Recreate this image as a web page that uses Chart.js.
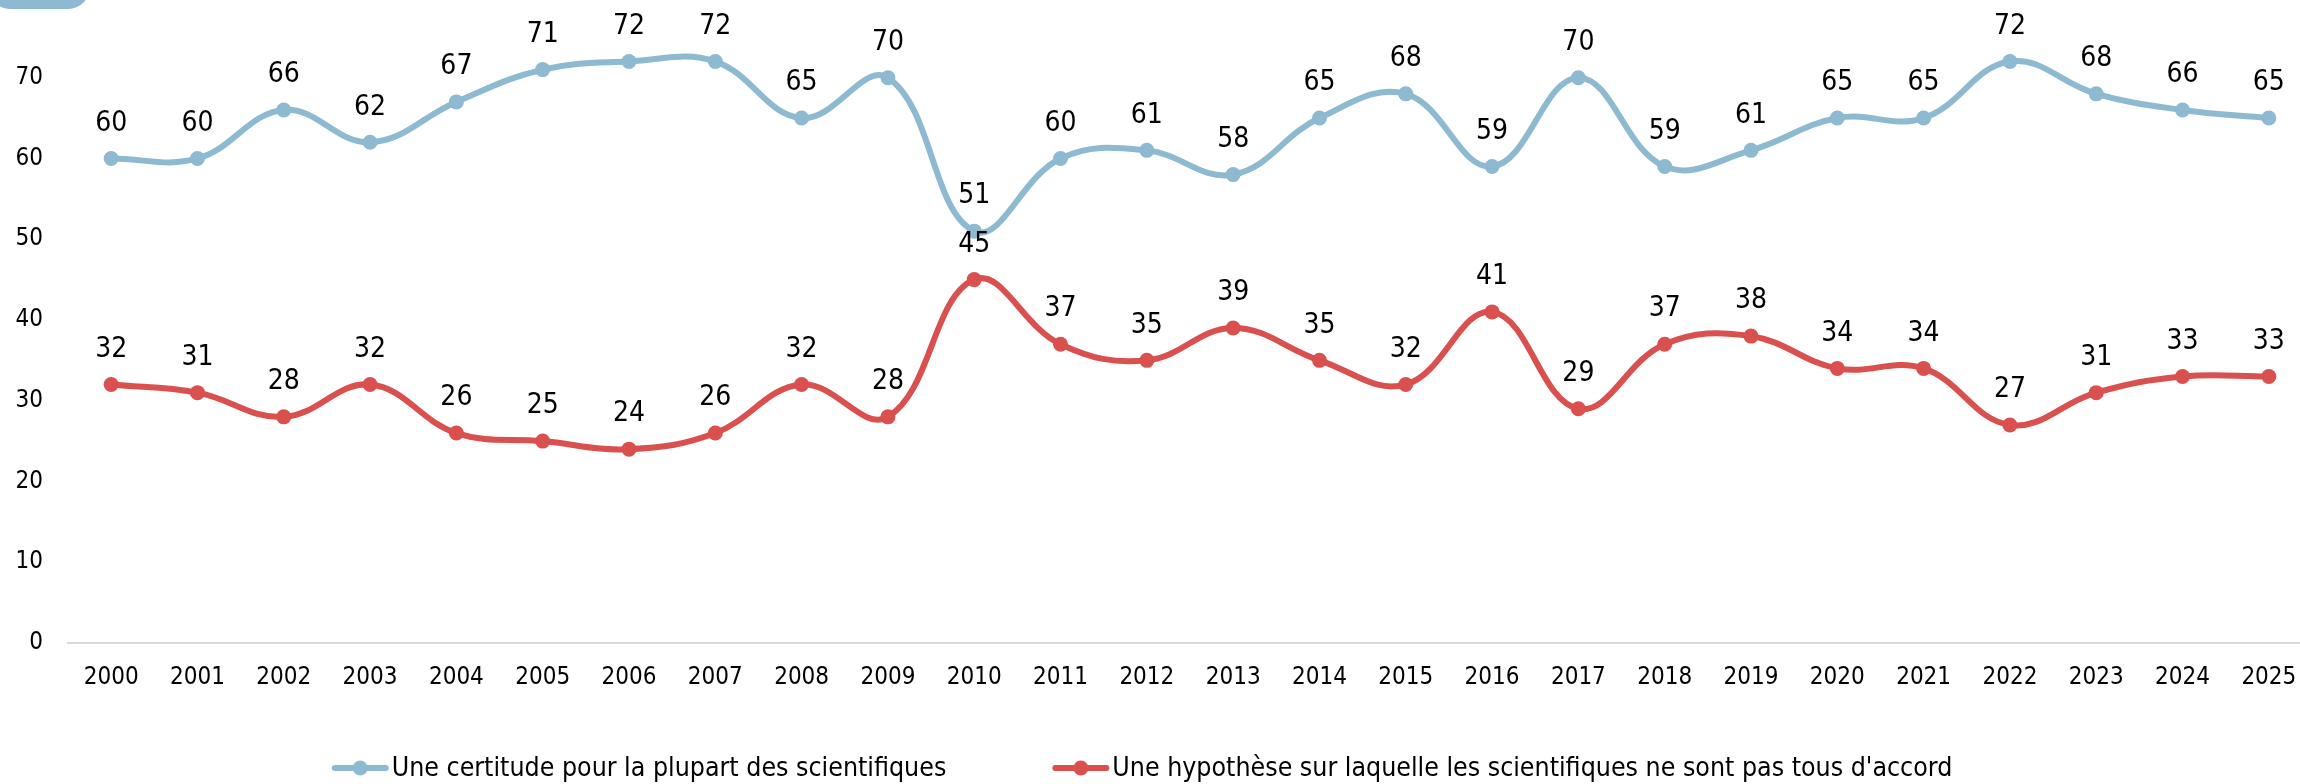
<!DOCTYPE html>
<html><head><meta charset="utf-8">
<script src="https://cdn.jsdelivr.net/npm/chart.js@4.4.1/dist/chart.umd.min.js"></script>
<style>
html,body{margin:0;padding:0;overflow:hidden;background:#fff;width:2300px;height:784px;}
#wrap{position:relative;width:2300px;height:784px;overflow:hidden;}
#c{position:absolute;left:0;top:0;width:2320px;height:784px;}
#badge{position:absolute;left:-12px;top:-40px;width:102px;height:49px;border-radius:22px;background:#8db9d2;}
</style></head><body>
<div id="wrap"><canvas id="c" width="2320" height="784"></canvas><div id="badge"></div></div>
<script>
const years = ['2000','2001','2002','2003','2004','2005','2006','2007','2008','2009','2010','2011','2012','2013','2014','2015','2016','2017','2018','2019','2020','2021','2022','2023','2024','2025'];
const certitude = [60,60,66,62,67,71,72,72,65,70,51,60,61,58,65,68,59,70,59,61,65,65,72,68,66,65];
const hypothese = [32,31,28,32,26,25,24,26,32,28,45,37,35,39,35,32,41,29,37,38,34,34,27,31,33,33];
const yTicks = [0,10,20,30,40,50,60,70];
const seriesNames = ['Une certitude pour la plupart des scientifiques', "Une hypothèse sur laquelle les scientifiques ne sont pas tous d'accord"];
const seriesColors = ['#8db9d1', '#d9504f'];

const FONT = "'DejaVu Sans Condensed', 'DejaVu Sans', sans-serif";

const dataLabelPlugin = {
  id: 'dataLabels',
  afterDatasetsDraw(chart) {
    const ctx = chart.ctx;
    ctx.save();
    ctx.font = '28px ' + FONT;
    ctx.fillStyle = '#000';
    ctx.textAlign = 'center';
    ctx.textBaseline = 'middle';
    chart.data.datasets.forEach((ds, i) => {
      const meta = chart.getDatasetMeta(i);
      meta.data.forEach((pt, j) => {
        ctx.fillText(String(ds.data[j]), pt.x, pt.y - 35);
      });
    });
    ctx.restore();
  }
};

const legendPlugin = {
  id: 'customLegend',
  afterDraw(chart) {
    const ctx = chart.ctx;
    ctx.save();
    ctx.font = '26.5px ' + FONT;
    ctx.textBaseline = 'middle';
    ctx.textAlign = 'left';
    const lineW = 57, gapText = 3, gapItem = 106;
    const items = chart.data.datasets.map(ds => ({label: ds.label, color: ds.borderColor, w: ctx.measureText(ds.label).width}));
    let total = 0;
    items.forEach((it, i) => { total += lineW + gapText + it.w + (i ? gapItem : 0); });
    let x = 1142 - total / 2;
    const y = 768;
    items.forEach((it, i) => {
      if (i) x += gapItem;
      ctx.strokeStyle = it.color;
      ctx.lineWidth = 6;
      ctx.lineCap = 'round';
      ctx.beginPath(); ctx.moveTo(x + 3, y); ctx.lineTo(x + lineW - 3, y); ctx.stroke();
      ctx.fillStyle = it.color;
      ctx.beginPath(); ctx.arc(x + lineW / 2, y, 7.5, 0, Math.PI * 2); ctx.fill();
      ctx.fillStyle = '#000';
      ctx.fillText(it.label, x + lineW + gapText, y + 1);
      x += lineW + gapText + it.w;
    });
    ctx.restore();
  }
};

new Chart(document.getElementById('c'), {
  type: 'line',
  data: {
    labels: years,
    datasets: [
      { label: seriesNames[0], data: certitude, borderColor: seriesColors[0], backgroundColor: seriesColors[0],
        borderWidth: 6, pointRadius: 7.5, pointHoverRadius: 7.5, pointBorderWidth: 0, tension: 0.4, fill: false },
      { label: seriesNames[1], data: hypothese, borderColor: seriesColors[1], backgroundColor: seriesColors[1],
        borderWidth: 6, pointRadius: 7.5, pointHoverRadius: 7.5, pointBorderWidth: 0, tension: 0.4, fill: false }
    ]
  },
  options: {
    responsive: false,
    animation: false,
    devicePixelRatio: 1,
    layout: { autoPadding: false, padding: { top: 5, right: 8, left: 0, bottom: 0 } },
    plugins: { legend: { display: false }, tooltip: { enabled: false } },
    scales: {
      x: {
        offset: true,
        grid: { display: false, drawTicks: false },
        border: { display: true, color: '#d9d9d9', width: 2 },
        ticks: { color: '#000', font: { size: 24, family: FONT }, padding: 20, maxRotation: 0, autoSkip: false },
        afterFit(scale) { scale.height = 141; scale.paddingLeft = 0; scale.paddingRight = 0; scale.paddingTop = 0; scale.paddingBottom = 0; }
      },
      y: {
        min: 0, max: 79,
        grid: { display: false, drawTicks: false },
        border: { display: false },
        ticks: { color: '#000', font: { size: 24, family: FONT }, padding: 25 },
        afterBuildTicks(scale) { scale.ticks = yTicks.map(v => ({ value: v })); },
        afterFit(scale) { scale.width = 68; scale.paddingLeft = 0; scale.paddingRight = 0; scale.paddingTop = 0; scale.paddingBottom = 0; }
      }
    }
  },
  plugins: [dataLabelPlugin, legendPlugin]
});
</script>
</body></html>
